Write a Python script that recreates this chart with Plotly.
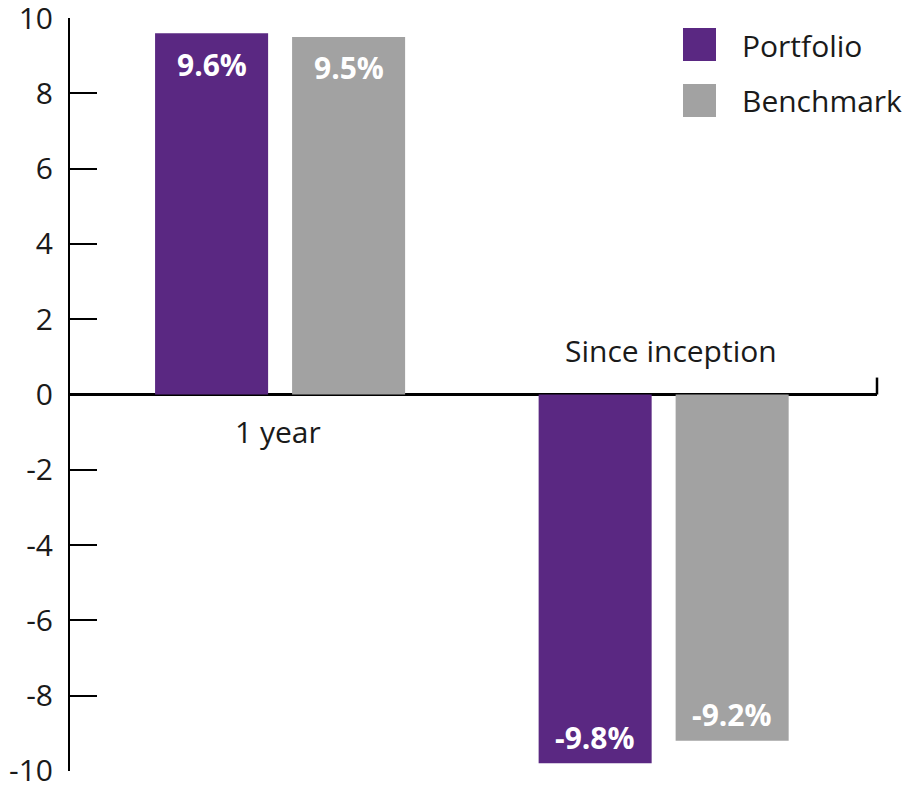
import plotly.graph_objects as go

categories = ["1 year", "Since inception"]
series_names = ["Portfolio", "Benchmark"]
portfolio = [9.6, -9.8]
benchmark = [9.5, -9.2]
colors = ["#5A2882", "#A2A2A2"]
y_ticks = [-10, -8, -6, -4, -2, 0, 2, 4, 6, 8, 10]

FONT = "Open Sans"
FS = 30
TXT = "#1a1a1a"
BAR_W = 0.2947
offsets = [-0.3272, 0.030]

fig = go.Figure()
for name, vals, col, off in zip(series_names, [portfolio, benchmark], colors, offsets):
    fig.add_trace(go.Bar(
        x=list(range(len(categories))), y=vals, name=name,
        marker=dict(color=col, line=dict(width=0)),
        width=BAR_W, offset=off, showlegend=False, hoverinfo="skip",
    ))
    for i, v in enumerate(vals):
        fig.add_annotation(
            x=i + off + BAR_W / 2, y=v, xref="x", yref="y", text=f"{v:.1f}%",
            showarrow=False, yanchor="middle", yshift=-31 if v > 0 else 26,
            font=dict(family=FONT, size=FS, color="white", weight="bold"))

fig.update_layout(
    width=911, height=786,
    margin=dict(l=70, r=34, t=18, b=15, autoexpand=False),
    paper_bgcolor="white", plot_bgcolor="white",
    barmode="overlay",
    font=dict(family=FONT, size=FS, color=TXT),
    xaxis=dict(range=[-0.549, 1.555], showticklabels=False, showgrid=False,
               zeroline=False, showline=False, ticks="", automargin=False),
    yaxis=dict(range=[-10.004, 10.004], tickvals=y_ticks, ticktext=[str(v) for v in y_ticks],
               ticks="inside", ticklen=27, tickwidth=2, tickcolor="black",
               showline=True, linewidth=2, linecolor="black",
               showgrid=False, zeroline=True, zerolinecolor="black", zerolinewidth=2.5,
               ticklabelstandoff=9, ticklabeloverflow="allow", automargin=False,
               tickfont=dict(family=FONT, size=FS, color=TXT)),
)

# end tick on the zero line
fig.add_shape(type="line", xref="paper", yref="y", x0=1, x1=1, y0=0, y1=0.45,
              line=dict(color="black", width=2.5))

# category labels
fig.add_annotation(x=0, y=0, xref="x", yref="y", text=categories[0], showarrow=False,
                   yanchor="middle", yshift=-37, xshift=-3, font=dict(family=FONT, size=FS, color=TXT))
fig.add_annotation(x=1, y=0, xref="x", yref="y", text=categories[1], showarrow=False,
                   yanchor="middle", yshift=44, xshift=7, font=dict(family=FONT, size=FS, color=TXT))

# custom legend
leg = [(0.9867, 0.9429, 0.9641), (0.9124, 0.8685, 0.8911)]
for (y1, y0, yt), name, col in zip(leg, series_names, colors):
    fig.add_shape(type="rect", xref="paper", yref="paper", x0=0.7596, x1=0.8005,
                  y0=y0, y1=y1, fillcolor=col, line=dict(width=0))
    fig.add_annotation(x=0.834, y=yt, xref="paper", yref="paper", text=name,
                       showarrow=False, xanchor="left", yanchor="middle", xshift=-3,
                       font=dict(family=FONT, size=FS, color=TXT))

fig.write_html("out.html", config={"displayModeBar": False},
               post_script="document.body.style.margin='0';document.body.style.overflow='hidden';")
